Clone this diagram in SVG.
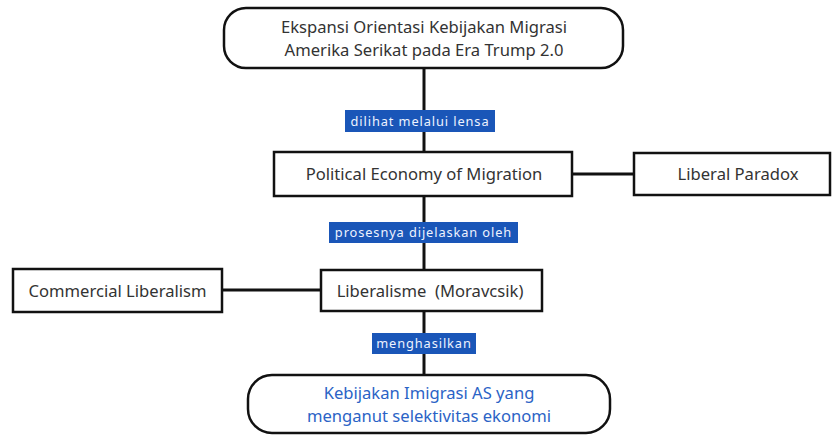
<svg xmlns="http://www.w3.org/2000/svg" width="832" height="435" viewBox="0 0 832 435">
<style>
.box{fill:#fff;stroke:#111;stroke-width:2.5}
.t{font-family:"Noto Sans","Open Sans",sans-serif;font-size:16.6px;fill:#333;text-anchor:middle}
.tb{font-family:"Noto Sans","Open Sans",sans-serif;font-size:16.6px;fill:#2b63c6;text-anchor:middle}
.lb{fill:#1a56b8}
.lt{font-family:"Noto Sans","Open Sans",sans-serif;font-size:12.8px;fill:#eef3ff;text-anchor:middle;letter-spacing:0.9px}
.c{stroke:#111;stroke-width:3;fill:none}
</style>
<rect width="832" height="435" fill="#fff"/>
<g id="connectors">
<line class="c" x1="424" y1="68" x2="424" y2="152"/>
<line class="c" x1="424" y1="196" x2="424" y2="270"/>
<line class="c" x1="424" y1="310" x2="424" y2="375"/>
<line class="c" x1="572" y1="174" x2="634" y2="174"/>
<line class="c" x1="222" y1="290" x2="321" y2="290"/>
<rect class="lb" x="345" y="110" width="150" height="22"/>
<text class="lt" x="420" y="125.5">dilihat melalui lensa</text>
<rect class="lb" x="329" y="222" width="189" height="21"/>
<text class="lt" x="423.5" y="237">prosesnya dijelaskan oleh</text>
<rect class="lb" x="372" y="333" width="104" height="21"/>
<text class="lt" x="424" y="348">menghasilkan</text>
</g>
<g id="top">
<rect class="box" x="224" y="8" width="399" height="60" rx="22"/>
<text class="t" x="424" y="33">Ekspansi Orientasi Kebijakan Migrasi</text>
<text class="t" x="424" y="56">Amerika Serikat pada Era Trump 2.0</text>
</g>
<g id="pem">
<rect class="box" x="274" y="152" width="298" height="44"/>
<text class="t" x="424" y="180">Political Economy of Migration</text>
</g>
<g id="paradox">
<rect class="box" x="634" y="153" width="196" height="42"/>
<text class="t" x="738" y="180">Liberal Paradox</text>
</g>
<g id="commercial">
<rect class="box" x="13" y="269" width="209" height="43"/>
<text class="t" x="117.5" y="296.5">Commercial Liberalism</text>
</g>
<g id="liberalisme">
<rect class="box" x="321" y="270" width="221" height="41"/>
<text class="t" x="430" y="296.5" xml:space="preserve">Liberalisme  (Moravcsik)</text>
</g>
<g id="result">
<rect class="box" x="248" y="375" width="362" height="58" rx="24"/>
<text class="tb" x="429" y="399">Kebijakan Imigrasi AS yang</text>
<text class="tb" x="429" y="422">menganut selektivitas ekonomi</text>
</g>
</svg>
